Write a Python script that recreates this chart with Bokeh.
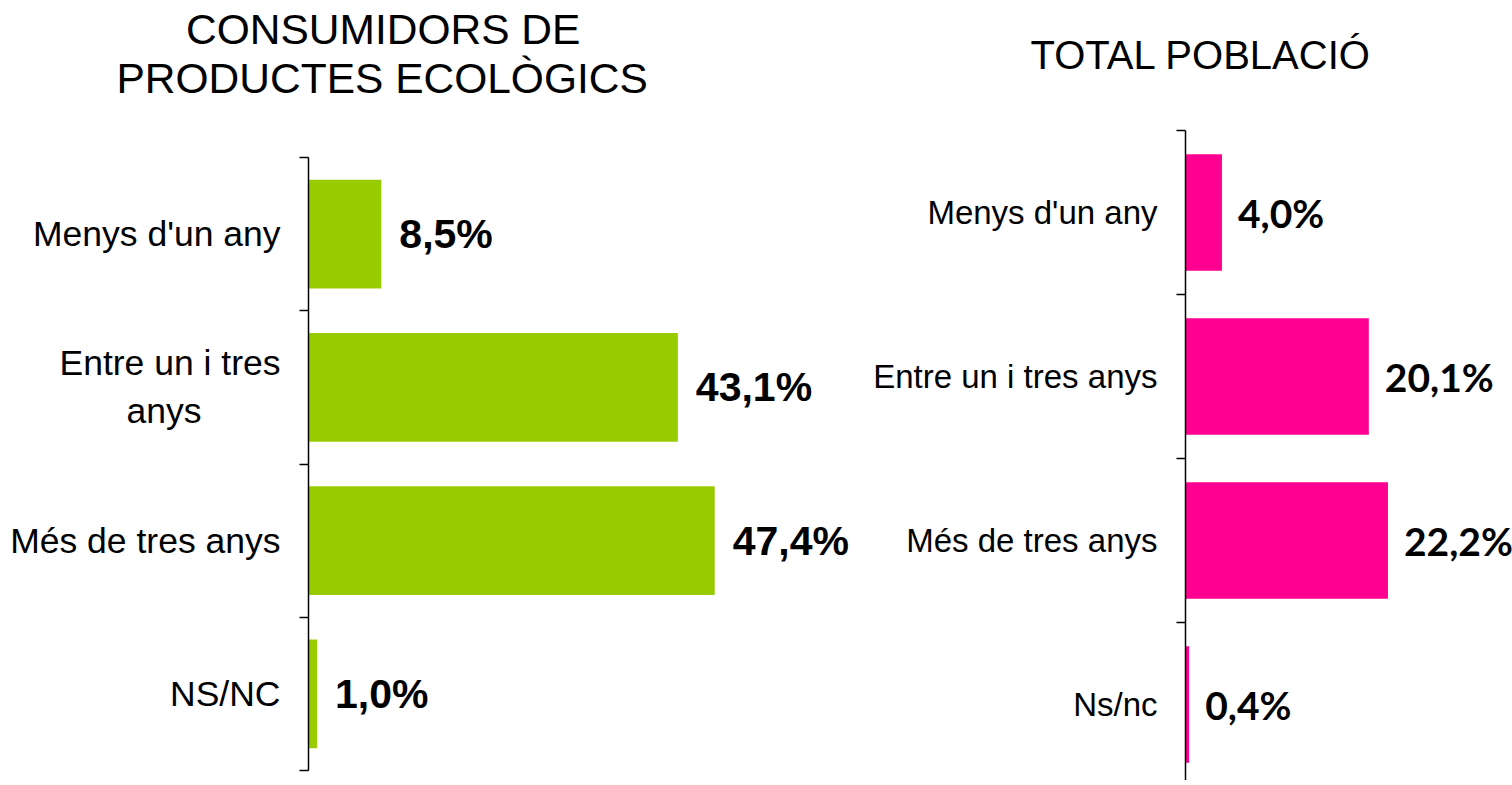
from bokeh.plotting import figure
from bokeh.models import Range1d, FixedTicker, Title, ColumnDataSource
from bokeh.layouts import row
from bokeh.embed import file_html
from bokeh.resources import INLINE
from bokeh.core.properties import value

NBSP = "\u00a0"

left_title = ["CONSUMIDORS DE", "PRODUCTES ECOLÒGICS"]
left_categories = ["Menys d'un any", "Entre un i tres\nanys" + NBSP * 8, "Més de tres anys", "NS/NC"]
left_values = [8.5, 43.1, 47.4, 1.0]

right_title = ["TOTAL POBLACIÓ"]
right_categories = ["Menys d'un any", "Entre un i tres anys", "Més de tres anys", "Ns/nc"]
right_values = [4.0, 20.1, 22.2, 0.4]


def fmt(v):
    return f"{v:.1f}".replace(".", ",") + "%"


def make(categories, values, color, titles, title_size, title_offsets, spacer_standoff,
         width, height, border_left, px_per_unit, band_px, top_gap_px,
         cat_size, val_font, val_size, val_offset):
    n = len(categories)
    border_top = 130
    frame_h = height - border_top
    frame_w = width - border_left
    centers = [i + 0.5 for i in range(n)]
    y_top = -top_gap_px / band_px
    y_bot = y_top + frame_h / band_px
    x_end = frame_w / px_per_unit
    src = ColumnDataSource(dict(y=centers, v=values, lab=[fmt(v) for v in values]))
    p = figure(width=width, height=height, output_backend="svg", toolbar_location=None,
               x_range=Range1d(0, x_end), y_range=Range1d(y_bot, y_top),
               x_axis_location=None, min_border_left=border_left, min_border_right=0,
               min_border_top=border_top, min_border_bottom=0)
    p.outline_line_color = None
    p.grid.visible = False
    p.hbar(y="y", left=0, right="v", height=0.71, source=src, fill_color=color, line_color=None)
    p.text(x="v", y="y", text="lab", source=src, x_offset=val_offset, text_align="left",
           text_baseline="middle", text_font=value(val_font), text_font_size=val_size,
           text_font_style="bold", text_color="black")
    ax = p.yaxis[0]
    ax.bounds = (0, n)
    ax.ticker = FixedTicker(ticks=centers, minor_ticks=list(range(n + 1)))
    ax.major_label_overrides = {c: cat for c, cat in zip(centers, categories)}
    ax.major_tick_out = 0
    ax.major_tick_in = 0
    ax.major_tick_line_color = None
    ax.minor_tick_out = 9
    ax.minor_tick_in = 0
    ax.minor_tick_line_color = "black"
    ax.minor_tick_line_width = 1.5
    ax.axis_line_color = "black"
    ax.axis_line_width = 1.5
    ax.major_label_standoff = 19
    ax.major_label_text_font = "Liberation Sans"
    ax.major_label_text_font_size = cat_size
    ax.major_label_text_color = "black"
    # spacer between the frame and the title lines
    p.add_layout(Title(text=" ", text_font_size="10px", standoff=spacer_standoff), "above")
    for t, off in reversed(list(zip(titles, title_offsets))):
        p.add_layout(Title(text=t, align="left", offset=off, text_font="Liberation Sans",
                           text_font_size=title_size, text_font_style="normal",
                           text_color="black", standoff=0), "above")
    return p


left = make(left_categories, left_values, "#99CC00", left_title, "42.5px", [-122.5, -192], 16,
            863, 780, 308, 8.57, 153.25, 27, "35.5px", "Liberation Sans", "41px", 18)
right = make(right_categories, right_values, "#FF0090", right_title, "40px", [-155], 41,
             649, 780, 322, 9.12, 164, 0, "33px", "Lato", "39px", 16)

layout = row(left, right)
open("out.html", "w").write(file_html(layout, INLINE))
